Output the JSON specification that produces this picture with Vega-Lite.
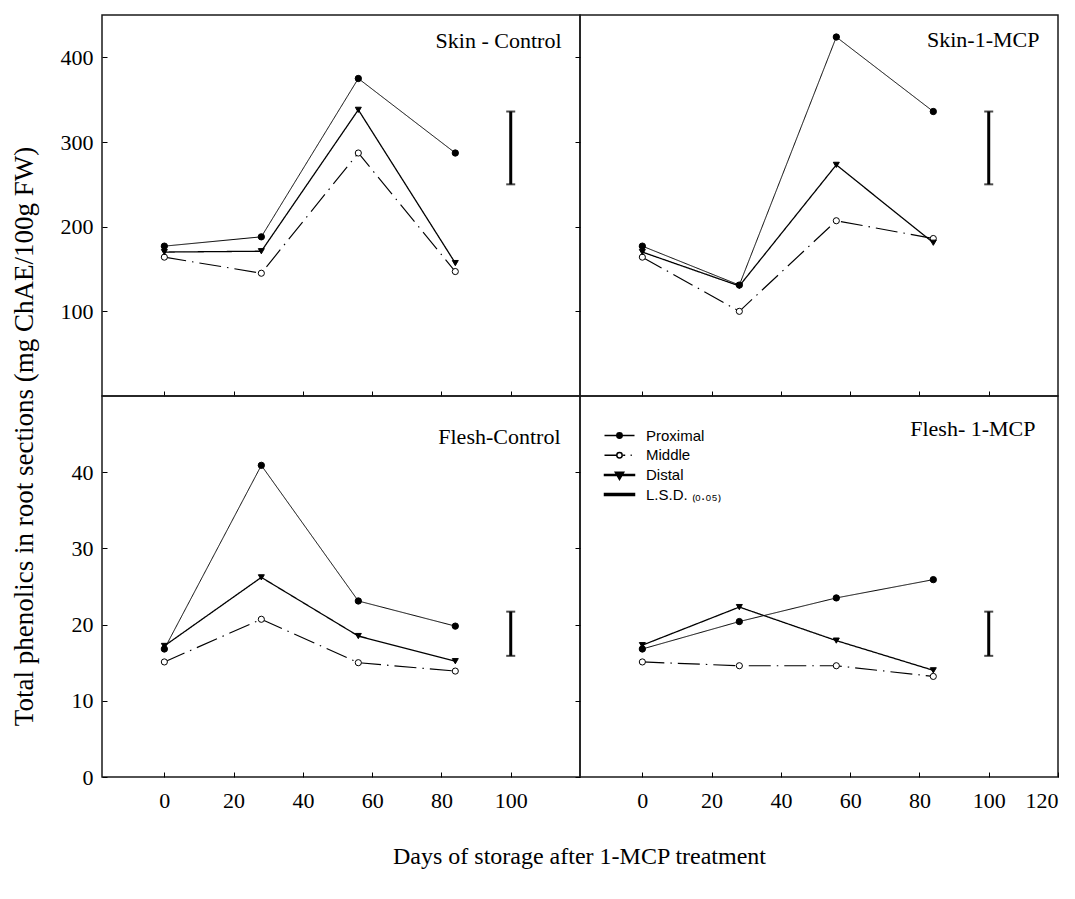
{
  "$schema": "https://vega.github.io/schema/vega-lite/v6.json",
  "background": "white",
  "padding": {"left": 9, "top": 14, "right": 5, "bottom": 5},
  "config": {
    "view": {"stroke": "#1a1a1a", "strokeWidth": 1.5},
    "axis": {"domain": false, "grid": false, "tickColor": "black", "tickWidth": 1, "labelFont": "Liberation Serif", "labelFontSize": 22, "labelColor": "black", "titleFont": "Liberation Serif", "titleColor": "black", "titleFontWeight": "normal", "titleFontSize": 22}
  },
  "datasets": {
    "main": [
      {"panel": "SC", "series": "Proximal", "day": 0, "value": 177},
      {"panel": "SC", "series": "Proximal", "day": 28, "value": 188},
      {"panel": "SC", "series": "Proximal", "day": 56, "value": 375},
      {"panel": "SC", "series": "Proximal", "day": 84, "value": 287},
      {"panel": "SC", "series": "Middle", "day": 0, "value": 164},
      {"panel": "SC", "series": "Middle", "day": 28, "value": 145},
      {"panel": "SC", "series": "Middle", "day": 56, "value": 287},
      {"panel": "SC", "series": "Middle", "day": 84, "value": 147},
      {"panel": "SC", "series": "Distal", "day": 0, "value": 170},
      {"panel": "SC", "series": "Distal", "day": 28, "value": 171},
      {"panel": "SC", "series": "Distal", "day": 56, "value": 338},
      {"panel": "SC", "series": "Distal", "day": 84, "value": 157},
      {"panel": "SM", "series": "Proximal", "day": 0, "value": 177},
      {"panel": "SM", "series": "Proximal", "day": 28, "value": 131},
      {"panel": "SM", "series": "Proximal", "day": 56, "value": 424},
      {"panel": "SM", "series": "Proximal", "day": 84, "value": 336},
      {"panel": "SM", "series": "Middle", "day": 0, "value": 164},
      {"panel": "SM", "series": "Middle", "day": 28, "value": 100},
      {"panel": "SM", "series": "Middle", "day": 56, "value": 207},
      {"panel": "SM", "series": "Middle", "day": 84, "value": 186},
      {"panel": "SM", "series": "Distal", "day": 0, "value": 170},
      {"panel": "SM", "series": "Distal", "day": 28, "value": 130},
      {"panel": "SM", "series": "Distal", "day": 56, "value": 273},
      {"panel": "SM", "series": "Distal", "day": 84, "value": 181},
      {"panel": "FC", "series": "Proximal", "day": 0, "value": 16.8},
      {"panel": "FC", "series": "Proximal", "day": 28, "value": 40.9},
      {"panel": "FC", "series": "Proximal", "day": 56, "value": 23.1},
      {"panel": "FC", "series": "Proximal", "day": 84, "value": 19.8},
      {"panel": "FC", "series": "Middle", "day": 0, "value": 15.1},
      {"panel": "FC", "series": "Middle", "day": 28, "value": 20.7},
      {"panel": "FC", "series": "Middle", "day": 56, "value": 15.0},
      {"panel": "FC", "series": "Middle", "day": 84, "value": 13.9},
      {"panel": "FC", "series": "Distal", "day": 0, "value": 17.2},
      {"panel": "FC", "series": "Distal", "day": 28, "value": 26.2},
      {"panel": "FC", "series": "Distal", "day": 56, "value": 18.5},
      {"panel": "FC", "series": "Distal", "day": 84, "value": 15.2},
      {"panel": "FM", "series": "Proximal", "day": 0, "value": 16.8},
      {"panel": "FM", "series": "Proximal", "day": 28, "value": 20.4},
      {"panel": "FM", "series": "Proximal", "day": 56, "value": 23.5},
      {"panel": "FM", "series": "Proximal", "day": 84, "value": 25.9},
      {"panel": "FM", "series": "Middle", "day": 0, "value": 15.1},
      {"panel": "FM", "series": "Middle", "day": 28, "value": 14.6},
      {"panel": "FM", "series": "Middle", "day": 56, "value": 14.6},
      {"panel": "FM", "series": "Middle", "day": 84, "value": 13.2},
      {"panel": "FM", "series": "Distal", "day": 0, "value": 17.3},
      {"panel": "FM", "series": "Distal", "day": 28, "value": 22.3},
      {"panel": "FM", "series": "Distal", "day": 56, "value": 17.9},
      {"panel": "FM", "series": "Distal", "day": 84, "value": 14.0}
    ],
    "lsd": [
      {"panel": "SC", "day": 100, "lo": 250, "hi": 336},
      {"panel": "SM", "day": 100, "lo": 250, "hi": 336},
      {"panel": "FC", "day": 100, "lo": 15.9, "hi": 21.7},
      {"panel": "FM", "day": 100, "lo": 15.9, "hi": 21.7}
    ],
    "legendkeys": [
      {"series": "Proximal"},
      {"series": "Middle"},
      {"series": "Distal"},
      {"series": "L.S.D. ₍₀.₀₅₎"}
    ]
  },
  "columns": 2,
  "spacing": 0,
  "bounds": "flush",
  "resolve": {
    "scale": {"shape": "independent", "fill": "independent", "size": "independent", "strokeDash": "independent", "strokeWidth": "independent"},
    "legend": {"shape": "independent", "fill": "independent"}
  },
  "concat": [
    {
      "width": 478, "height": 381,
      "encoding": {
        "x": {"field": "day", "type": "quantitative", "scale": {"domain": [-18, 120], "nice": false, "zero": false}, "axis": {"values": [0, 20, 40, 60, 80, 100], "labels": false, "tickSize": -5, "title": "Skin - Control", "titleX": 459, "titleY": -348.5, "titleAlign": "right", "titleBaseline": "alphabetic", "titleAngle": 0}},
        "y": {"field": "value", "type": "quantitative", "scale": {"domain": [0, 450], "nice": false, "zero": false}, "axis": {"values": [100, 200, 300, 400], "tickSize": -5, "labelPadding": 14, "title": "Total phenolics in root sections (mg ChAE/100g FW)", "titleFontSize": 27, "titleX": -70, "titleY": 421, "titleBaseline": "alphabetic", "titleAlign": "center", "titleAngle": -90}}
      },
      "layer": [
        {"data": {"name": "main"}, "transform": [{"filter": "datum.panel === 'SC'"}], "mark": {"type": "line", "color": "black"},
         "encoding": {"detail": {"field": "series"},
           "strokeDash": {"field": "series", "type": "nominal", "scale": {"domain": ["Proximal", "Middle", "Distal"], "range": [[1, 0], [22, 6, 1.5, 6], [1, 0]]}, "legend": null},
           "strokeWidth": {"field": "series", "type": "ordinal", "scale": {"domain": ["Proximal", "Middle", "Distal"], "range": [1, 1.3, 2]}, "legend": null}}},
        {"data": {"name": "main"}, "transform": [{"filter": "datum.panel === 'SC'"}], "mark": {"type": "point", "filled": true, "stroke": "black", "strokeWidth": 1, "opacity": 1},
         "encoding": {
           "shape": {"field": "series", "type": "nominal", "scale": {"domain": ["Proximal", "Middle", "Distal"], "range": ["circle", "circle", "triangle-down"]}, "legend": null},
           "fill": {"field": "series", "type": "nominal", "scale": {"domain": ["Proximal", "Middle", "Distal"], "range": ["black", "white", "black"]}, "legend": null},
           "size": {"field": "series", "type": "ordinal", "scale": {"domain": ["Proximal", "Middle", "Distal"], "range": [40, 36, 100]}, "legend": null}}},
        {"data": {"name": "lsd"}, "transform": [{"filter": "datum.panel === 'SC'"}], "mark": {"type": "rule", "color": "black", "strokeWidth": 3},
         "encoding": {"y": {"field": "lo", "type": "quantitative"}, "y2": {"field": "hi"}}},
        {"data": {"name": "lsd"}, "transform": [{"filter": "datum.panel === 'SC'"}], "mark": {"type": "tick", "orient": "horizontal", "color": "black", "thickness": 2, "size": 9},
         "encoding": {"y": {"field": "lo", "type": "quantitative"}}},
        {"data": {"name": "lsd"}, "transform": [{"filter": "datum.panel === 'SC'"}], "mark": {"type": "tick", "orient": "horizontal", "color": "black", "thickness": 2, "size": 9},
         "encoding": {"y": {"field": "hi", "type": "quantitative"}}}
      ]
    },
    {
      "width": 478, "height": 381,
      "encoding": {
        "x": {"field": "day", "type": "quantitative", "scale": {"domain": [-18, 120], "nice": false, "zero": false}, "axis": {"values": [0, 20, 40, 60, 80, 100], "labels": false, "tickSize": -5, "title": "Skin-1-MCP", "titleX": 459, "titleY": -350, "titleAlign": "right", "titleBaseline": "alphabetic", "titleAngle": 0}},
        "y": {"field": "value", "type": "quantitative", "scale": {"domain": [0, 450], "nice": false, "zero": false}, "axis": {"values": [100, 200, 300, 400], "tickSize": 5, "labels": false, "title": null}}
      },
      "layer": [
        {"data": {"name": "main"}, "transform": [{"filter": "datum.panel === 'SM'"}], "mark": {"type": "line", "color": "black"},
         "encoding": {"detail": {"field": "series"},
           "strokeDash": {"field": "series", "type": "nominal", "scale": {"domain": ["Proximal", "Middle", "Distal"], "range": [[1, 0], [22, 6, 1.5, 6], [1, 0]]}, "legend": null},
           "strokeWidth": {"field": "series", "type": "ordinal", "scale": {"domain": ["Proximal", "Middle", "Distal"], "range": [1, 1.3, 2]}, "legend": null}}},
        {"data": {"name": "main"}, "transform": [{"filter": "datum.panel === 'SM'"}], "mark": {"type": "point", "filled": true, "stroke": "black", "strokeWidth": 1, "opacity": 1},
         "encoding": {
           "shape": {"field": "series", "type": "nominal", "scale": {"domain": ["Proximal", "Middle", "Distal"], "range": ["circle", "circle", "triangle-down"]}, "legend": null},
           "fill": {"field": "series", "type": "nominal", "scale": {"domain": ["Proximal", "Middle", "Distal"], "range": ["black", "white", "black"]}, "legend": null},
           "size": {"field": "series", "type": "ordinal", "scale": {"domain": ["Proximal", "Middle", "Distal"], "range": [40, 36, 100]}, "legend": null}}},
        {"data": {"name": "lsd"}, "transform": [{"filter": "datum.panel === 'SM'"}], "mark": {"type": "rule", "color": "black", "strokeWidth": 3},
         "encoding": {"y": {"field": "lo", "type": "quantitative"}, "y2": {"field": "hi"}}},
        {"data": {"name": "lsd"}, "transform": [{"filter": "datum.panel === 'SM'"}], "mark": {"type": "tick", "orient": "horizontal", "color": "black", "thickness": 2, "size": 9},
         "encoding": {"y": {"field": "lo", "type": "quantitative"}}},
        {"data": {"name": "lsd"}, "transform": [{"filter": "datum.panel === 'SM'"}], "mark": {"type": "tick", "orient": "horizontal", "color": "black", "thickness": 2, "size": 9},
         "encoding": {"y": {"field": "hi", "type": "quantitative"}}}
      ]
    },
    {
      "width": 478, "height": 381,
      "encoding": {
        "x": {"field": "day", "type": "quantitative", "scale": {"domain": [-18, 120], "nice": false, "zero": false}, "axis": {"values": [0, 20, 40, 60, 80, 100], "tickSize": -5, "labelPadding": 18, "title": "Days of storage after 1-MCP treatment", "titleFontSize": 24, "titleX": 477, "titleY": 86, "titleBaseline": "alphabetic", "titleAlign": "center"}},
        "y": {"field": "value", "type": "quantitative", "scale": {"domain": [0, 50], "nice": false, "zero": false}, "axis": {"values": [0, 10, 20, 30, 40], "tickSize": -5, "labelPadding": 14, "title": "Flesh-Control", "titleX": 458, "titleY": 47, "titleAlign": "right", "titleBaseline": "alphabetic", "titleAngle": 0}}
      },
      "layer": [
        {"data": {"name": "main"}, "transform": [{"filter": "datum.panel === 'FC'"}], "mark": {"type": "line", "color": "black"},
         "encoding": {"detail": {"field": "series"},
           "strokeDash": {"field": "series", "type": "nominal", "scale": {"domain": ["Proximal", "Middle", "Distal"], "range": [[1, 0], [22, 6, 1.5, 6], [1, 0]]}, "legend": null},
           "strokeWidth": {"field": "series", "type": "ordinal", "scale": {"domain": ["Proximal", "Middle", "Distal"], "range": [1, 1.3, 2]}, "legend": null}}},
        {"data": {"name": "main"}, "transform": [{"filter": "datum.panel === 'FC'"}], "mark": {"type": "point", "filled": true, "stroke": "black", "strokeWidth": 1, "opacity": 1},
         "encoding": {
           "shape": {"field": "series", "type": "nominal", "scale": {"domain": ["Proximal", "Middle", "Distal"], "range": ["circle", "circle", "triangle-down"]}, "legend": null},
           "fill": {"field": "series", "type": "nominal", "scale": {"domain": ["Proximal", "Middle", "Distal"], "range": ["black", "white", "black"]}, "legend": null},
           "size": {"field": "series", "type": "ordinal", "scale": {"domain": ["Proximal", "Middle", "Distal"], "range": [40, 36, 100]}, "legend": null}}},
        {"data": {"name": "lsd"}, "transform": [{"filter": "datum.panel === 'FC'"}], "mark": {"type": "rule", "color": "black", "strokeWidth": 3},
         "encoding": {"y": {"field": "lo", "type": "quantitative"}, "y2": {"field": "hi"}}},
        {"data": {"name": "lsd"}, "transform": [{"filter": "datum.panel === 'FC'"}], "mark": {"type": "tick", "orient": "horizontal", "color": "black", "thickness": 2, "size": 9},
         "encoding": {"y": {"field": "lo", "type": "quantitative"}}},
        {"data": {"name": "lsd"}, "transform": [{"filter": "datum.panel === 'FC'"}], "mark": {"type": "tick", "orient": "horizontal", "color": "black", "thickness": 2, "size": 9},
         "encoding": {"y": {"field": "hi", "type": "quantitative"}}}
      ]
    },
    {
      "width": 478, "height": 381,
      "resolve": {"scale": {"shape": "independent", "fill": "independent", "size": "independent", "strokeWidth": "independent"}},
      "encoding": {
        "x": {"field": "day", "type": "quantitative", "scale": {"domain": [-18, 120], "nice": false, "zero": false}, "axis": {"values": [0, 20, 40, 60, 80, 100, 120], "tickSize": -5, "labelPadding": 18, "title": "Flesh- 1-MCP", "titleX": 455, "titleY": -342, "titleAlign": "right", "titleBaseline": "alphabetic", "titleAngle": 0}},
        "y": {"field": "value", "type": "quantitative", "scale": {"domain": [0, 50], "nice": false, "zero": false}, "axis": {"values": [0, 10, 20, 30, 40], "tickSize": 5, "labels": false, "title": null}}
      },
      "layer": [
        {"data": {"name": "main"}, "transform": [{"filter": "datum.panel === 'FM'"}], "mark": {"type": "line", "color": "black"},
         "encoding": {"detail": {"field": "series"},
           "strokeDash": {"field": "series", "type": "nominal", "scale": {"domain": ["Proximal", "Middle", "Distal"], "range": [[1, 0], [22, 6, 1.5, 6], [1, 0]]}, "legend": null},
           "strokeWidth": {"field": "series", "type": "ordinal", "scale": {"domain": ["Proximal", "Middle", "Distal"], "range": [1, 1.3, 2]}, "legend": null}}},
        {"data": {"name": "main"}, "transform": [{"filter": "datum.panel === 'FM'"}], "mark": {"type": "point", "filled": true, "stroke": "black", "strokeWidth": 1, "opacity": 1},
         "encoding": {
           "shape": {"field": "series", "type": "nominal", "scale": {"domain": ["Proximal", "Middle", "Distal"], "range": ["circle", "circle", "triangle-down"]}, "legend": null},
           "fill": {"field": "series", "type": "nominal", "scale": {"domain": ["Proximal", "Middle", "Distal"], "range": ["black", "white", "black"]}, "legend": null},
           "size": {"field": "series", "type": "ordinal", "scale": {"domain": ["Proximal", "Middle", "Distal"], "range": [40, 36, 100]}, "legend": null}}},
        {"data": {"name": "lsd"}, "transform": [{"filter": "datum.panel === 'FM'"}], "mark": {"type": "rule", "color": "black", "strokeWidth": 3},
         "encoding": {"y": {"field": "lo", "type": "quantitative"}, "y2": {"field": "hi"}}},
        {"data": {"name": "lsd"}, "transform": [{"filter": "datum.panel === 'FM'"}], "mark": {"type": "tick", "orient": "horizontal", "color": "black", "thickness": 2, "size": 9},
         "encoding": {"y": {"field": "lo", "type": "quantitative"}}},
        {"data": {"name": "lsd"}, "transform": [{"filter": "datum.panel === 'FM'"}], "mark": {"type": "tick", "orient": "horizontal", "color": "black", "thickness": 2, "size": 9},
         "encoding": {"y": {"field": "hi", "type": "quantitative"}}},
        {"data": {"name": "legendkeys"}, "transform": [{"filter": "false"}], "mark": {"type": "point", "filled": true, "stroke": "black", "strokeWidth": 1, "opacity": 1},
         "encoding": {
           "x": {"datum": 0}, "y": {"datum": 0},
           "shape": {"field": "series", "type": "nominal",
             "scale": {"domain": ["Proximal", "Middle", "Distal", "L.S.D. ₍₀.₀₅₎"], "range": [
               "M-2.5,0H2.5M0.45,0A0.45,0.45,0,1,1,-0.45,0A0.45,0.45,0,1,1,0.45,0Z",
               "M-2.5,0H-0.45M0.45,0A0.45,0.45,0,1,1,-0.45,0A0.45,0.45,0,1,1,0.45,0ZM0.6,0H0.95M1.85,0H2.05",
               "M-2.5,-0.083H2.5V0.083H-2.5ZM-0.7,-0.45L0.7,-0.45L0,0.75Z",
               "M-2.5,-0.17H2.5V0.17H-2.5Z"]},
             "legend": {"orient": "top-left", "offset": 32, "title": null, "padding": 0, "symbolSize": 144, "labelFont": "Liberation Sans", "labelFontSize": 15, "labelColor": "black", "labelOffset": 19, "rowPadding": 3.7}},
           "fill": {"field": "series", "type": "nominal",
             "scale": {"domain": ["Proximal", "Middle", "Distal", "L.S.D. ₍₀.₀₅₎"], "range": ["black", "white", "black", "black"]},
             "legend": {"orient": "top-left", "offset": 32, "title": null, "padding": 0, "symbolSize": 144, "labelFont": "Liberation Sans", "labelFontSize": 15, "labelColor": "black", "labelOffset": 19, "rowPadding": 3.7}}
         }}
      ]
    }
  ]
}
